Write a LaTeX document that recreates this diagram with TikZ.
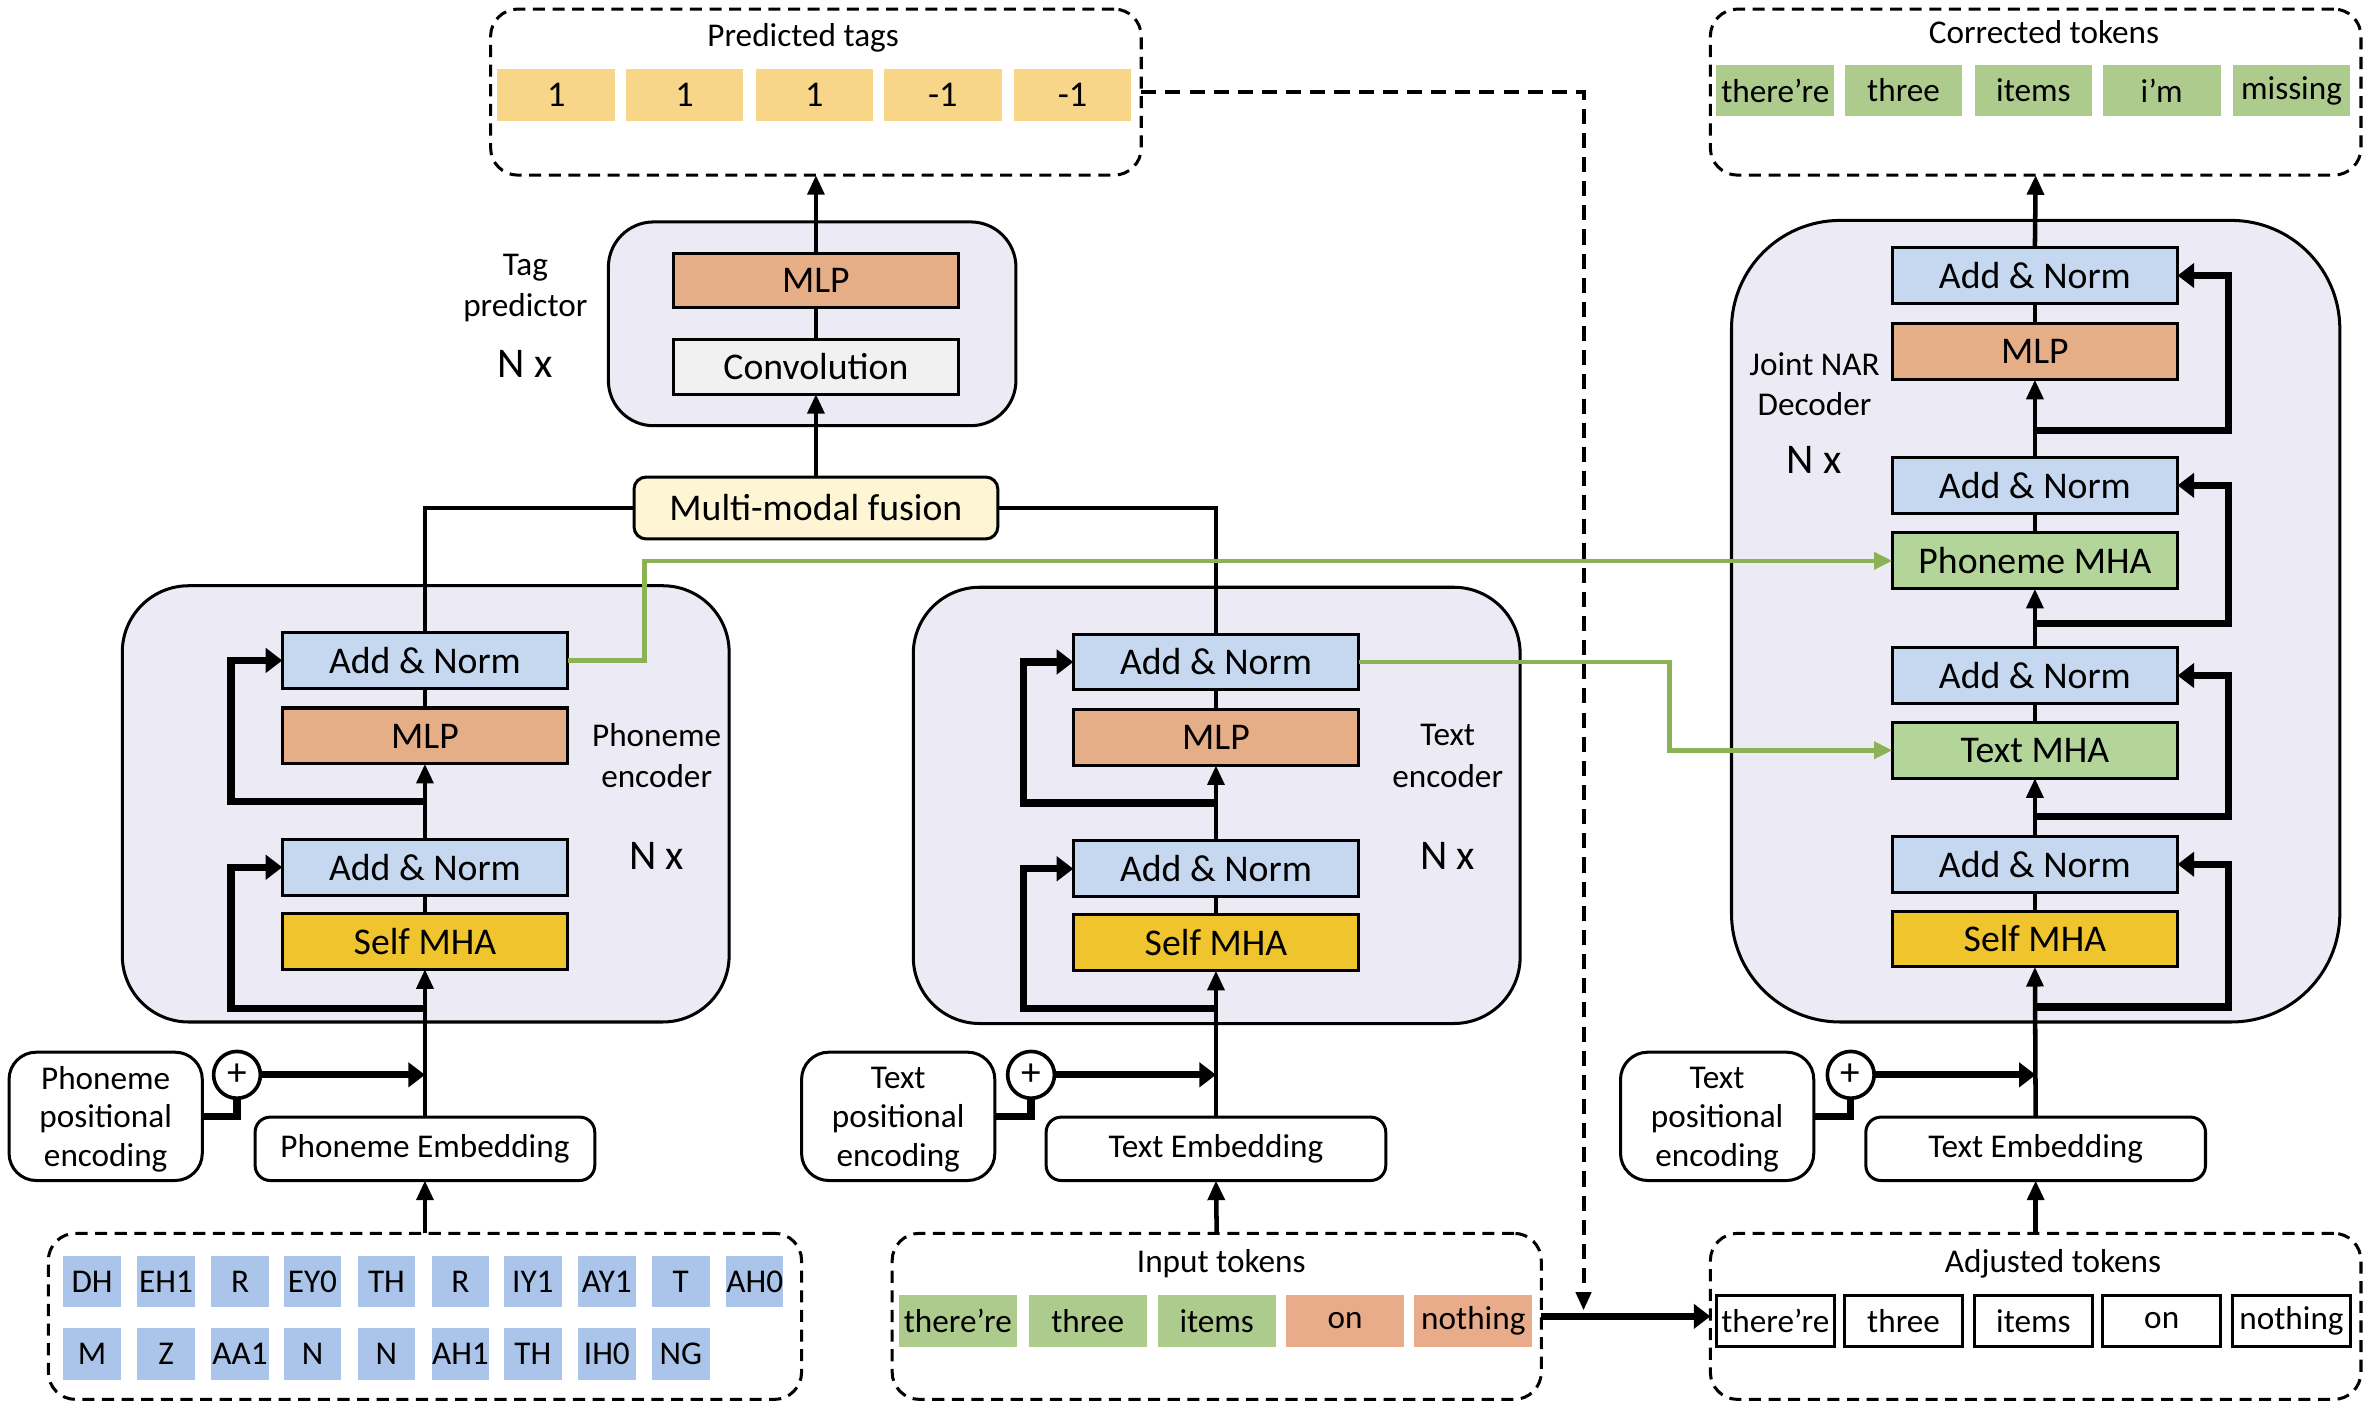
\documentclass[tikz,border=0pt]{standalone}
\usepackage{fontspec}
\setmainfont{Carlito}
\usetikzlibrary{arrows.meta,calc}
\definecolor{anblue}{HTML}{C6D8EF}
\definecolor{mlporange}{HTML}{E6AE86}
\definecolor{mhayellow}{HTML}{F0C42C}
\definecolor{mhagreen}{HTML}{B3D59A}
\definecolor{tokgreen}{HTML}{AECB8E}
\definecolor{tokorange}{HTML}{E9AC8A}
\definecolor{tagyellow}{HTML}{F7D68A}
\definecolor{phblue}{HTML}{AAC4EA}
\definecolor{encfill}{HTML}{ECEBF5}
\definecolor{fusefill}{HTML}{FDF5D4}
\definecolor{convfill}{HTML}{F1F1F1}
\definecolor{linkgreen}{HTML}{8CB255}
\begin{document}
\begin{tikzpicture}[x=0.5pt,y=-0.5pt,
  blk/.style={draw, line width=1pt, minimum width=94.5pt, minimum height=18.5pt, inner sep=0pt, outer sep=0pt, font=\fontsize{12.5}{14}\selectfont},
  an/.style={blk, fill=anblue},
  mlp/.style={blk, fill=mlporange},
  smha/.style={blk, fill=mhayellow},
  gmha/.style={blk, fill=mhagreen},
  encbox/.style={draw, line width=1pt, fill=encfill, rounded corners=22pt, inner sep=0pt, outer sep=0pt},
  dbox/.style={draw, dash pattern=on 4pt off 2.5pt, line width=1pt, rounded corners=9pt, inner sep=0pt, outer sep=0pt},
  cell/.style={minimum width=39pt, minimum height=17pt, inner sep=0pt, outer sep=0pt, font=\fontsize{11}{13}\selectfont},
  pcell/.style={cell, fill=phblue, minimum width=19pt, font=\fontsize{11}{12}\selectfont},
  flow/.style={line width=1.5pt},
  arr/.style={line width=1.5pt, -{Triangle[length=6.5pt,width=5.5pt]}},
  res/.style={line width=2.4pt},
  resarr/.style={line width=2.4pt, -{Triangle[length=5.5pt,width=8pt]}},
  garr/.style={line width=1.5pt, draw=linkgreen, -{Triangle[length=6pt,width=5.5pt,fill=linkgreen]}},
  lbl/.style={font=\fontsize{11}{13}\selectfont, inner sep=0pt},
  nx/.style={font=\fontsize{14}{16}\selectfont, inner sep=0pt},
  ttl/.style={font=\fontsize{11}{13}\selectfont, inner sep=0pt},
  rbox/.style={draw, line width=1pt, rounded corners=8pt, inner sep=0pt, outer sep=0pt, fill=white},
  plus/.style={draw, circle, line width=1.2pt, minimum size=15.5pt, inner sep=0pt, outer sep=0pt, fill=white, font=\fontsize{13}{13}\selectfont}
]
\useasboundingbox (0,0) rectangle (1568,933.4);

% ---------- Predicted tags ----------
\node[dbox, minimum width=215.5pt, minimum height=55pt] (predbox) at (540.5,61) {};
\node[ttl] (predttl) at (532,25) {Predicted tags};
\foreach \x/\t [count=\i] in {368.5/1, 453.5/1, 539.5/1, 624.5/-1, 710.5/-1}
  \node[cell, fill=tagyellow, font=\fontsize{12}{13}\selectfont] (tag\i) at (\x,63) {\t};

% ---------- Corrected tokens ----------
\node[dbox, minimum width=215.5pt, minimum height=55pt] (corrbox) at (1348.5,61) {};
\node[ttl] (corrttl) at (1354,21) {Corrected tokens};
\foreach \x/\t [count=\i] in {1176/there’re, 1261/three, 1347/items, 1432/i’m, 1518/missing}
  \node[cell, fill=tokgreen] (ct\i) at (\x,60) {\t};

% ---------- Tag predictor ----------
\node[encbox, rounded corners=15pt, minimum width=135pt, minimum height=67.5pt] (tagbox) at (538,214.5) {};
\node[blk, fill=mlporange, minimum height=18pt] (tmlpp) at (540.5,186) {MLP};
\node[blk, fill=convfill, minimum height=18pt] (conv) at (540.5,243) {Convolution};
\node[lbl] (taglbl1) at (348,177) {Tag};
\node[lbl] (taglbl2) at (348,204) {predictor};
\node[nx] (tagnx) at (348,241) {N x};

% ---------- Fusion ----------
\node[draw, line width=1pt, fill=fusefill, rounded corners=4pt, minimum width=120.5pt, minimum height=20.5pt, inner sep=0pt, outer sep=0pt, font=\fontsize{12.5}{14}\selectfont] (fuse) at (540.5,336.5) {Multi-modal fusion};

% ---------- Phoneme encoder ----------
\node[encbox, minimum width=201pt, minimum height=144.5pt] (penc) at (282,532.5) {};
\node[an] (pan1) at (281.5,437.5) {Add \& Norm};
\node[mlp] (pmlp) at (281.5,487.5) {MLP};
\node[an] (pan2) at (281.5,574.5) {Add \& Norm};
\node[smha] (psmha) at (281.5,623.5) {Self MHA};
\node[lbl] (plbl1) at (435,487) {Phoneme};
\node[lbl] (plbl2) at (435,514) {encoder};
\node[nx] (pnx) at (435,567) {N x};

% ---------- Text encoder ----------
\node[encbox, minimum width=201pt, minimum height=144.5pt] (tenc) at (806,533.5) {};
\node[an] (tan1) at (805.5,438.5) {Add \& Norm};
\node[mlp] (tmlp) at (805.5,488.5) {MLP};
\node[an] (tan2) at (805.5,575.5) {Add \& Norm};
\node[smha] (tsmha) at (805.5,624.5) {Self MHA};
\node[lbl] (tlbl1) at (959,487) {Text};
\node[lbl] (tlbl2) at (959,514) {encoder};
\node[nx] (tnx) at (959,567) {N x};

% ---------- Decoder ----------
\node[encbox, rounded corners=36pt, minimum width=201.5pt, minimum height=265.5pt] (dec) at (1348.5,411.5) {};
\node[an] (dan4) at (1348,182.5) {Add \& Norm};
\node[mlp] (dmlp) at (1348,233) {MLP};
\node[an] (dan3) at (1348,321.5) {Add \& Norm};
\node[gmha] (dpmha) at (1348,371.5) {Phoneme MHA};
\node[an] (dan2) at (1348,447.5) {Add \& Norm};
\node[gmha] (dtmha) at (1348,497) {Text MHA};
\node[an] (dan1) at (1348,572.5) {Add \& Norm};
\node[smha] (dsmha) at (1348,622) {Self MHA};
\node[lbl] (dlbl1) at (1202,241) {Joint NAR};
\node[lbl] (dlbl2) at (1202,268) {Decoder};
\node[nx] (dnx) at (1202,305) {N x};

% ---------- Bottom: phoneme side ----------
\node[rbox, rounded corners=9pt, minimum width=64pt, minimum height=42.5pt] (ppos) at (70,739.5) {};
\node[lbl] (pposa) at (70,714) {Phoneme};
\node[lbl] (pposb) at (70,741) {positional};
\node[lbl] (pposc) at (70,767) {encoding};
\node[plus] (p1) at (157,712) {+};
\node[rbox, rounded corners=5pt, minimum width=112.5pt, minimum height=21pt, font=\fontsize{11}{13}\selectfont] (pemb) at (281.5,761) {Phoneme Embedding};
\node[dbox, minimum width=249.5pt, minimum height=55pt] (ptok) at (281.5,872) {};
\foreach \x/\t [count=\i] in {61/DH, 110/EH1, 159/R, 207/EY0, 256/TH, 305/R, 353/IY1, 402/AY1, 451/T, 500/AH0}
  \node[pcell] (pa\i) at (\x,849) {\t};
\foreach \x/\t [count=\i] in {61/M, 110/Z, 159/AA1, 207/N, 256/N, 305/AH1, 353/TH, 402/IH0, 451/NG}
  \node[pcell] (pb\i) at (\x,897) {\t};

% ---------- Bottom: text side ----------
\node[rbox, rounded corners=9pt, minimum width=64pt, minimum height=42.5pt] (tpos) at (595,739.5) {};
\node[lbl] (tposa) at (595,714) {Text};
\node[lbl] (tposb) at (595,741) {positional};
\node[lbl] (tposc) at (595,767) {encoding};
\node[plus] (p2) at (683,712) {+};
\node[rbox, rounded corners=5pt, minimum width=112.5pt, minimum height=21pt, font=\fontsize{11}{13}\selectfont] (temb) at (805.5,761) {Text Embedding};
\node[dbox, minimum width=215pt, minimum height=55pt] (itok) at (806,872) {};
\node[ttl] (ittl) at (809,837) {Input tokens};
\foreach \x/\t/\c [count=\i] in {634.5/there’re/tokgreen, 720.5/three/tokgreen, 806/items/tokgreen, 891/on/tokorange, 976/nothing/tokorange}
  \node[cell, fill=\c] (it\i) at (\x,875) {\t};

% ---------- Bottom: decoder side ----------
\node[rbox, rounded corners=9pt, minimum width=64pt, minimum height=42.5pt] (dpos) at (1137.5,739.5) {};
\node[lbl] (dposa) at (1137.5,714) {Text};
\node[lbl] (dposb) at (1137.5,741) {positional};
\node[lbl] (dposc) at (1137.5,767) {encoding};
\node[plus] (p3) at (1226,712) {+};
\node[rbox, rounded corners=5pt, minimum width=112.5pt, minimum height=21pt, font=\fontsize{11}{13}\selectfont] (demb) at (1348.5,761) {Text Embedding};
\node[dbox, minimum width=215.5pt, minimum height=55pt] (atok) at (1348.5,872) {};
\node[ttl] (attl) at (1360,837) {Adjusted tokens};
\foreach \x/\t [count=\i] in {1176/there’re, 1261/three, 1347/items, 1432/on, 1518/nothing}
  \node[cell, draw, line width=1pt, fill=white] (at\i) at (\x,875) {\t};

% ================= connectors =================
% tag predictor
\draw[arr] (fuse.north) -- (conv.south);
\draw[flow] (conv.north) -- (tmlpp.south);
\draw[arr] (tmlpp.north) -- (predbox.south);
\draw[flow] (fuse.west) -| (pan1.north);
\draw[flow] (fuse.east) -| (tan1.north);

% phoneme encoder
\coordinate (pr1) at (281.5,668);
\coordinate (pr2) at (281.5,531);
\draw[arr] (pemb.north) -- (psmha.south);
\draw[flow] (psmha.north) -- (pan2.south);
\draw[arr] (pan2.north) -- (pmlp.south);
\draw[flow] (pmlp.north) -- (pan1.south);
\draw[resarr] (pr1) -| (153,574.5) -- (pan2.west);
\draw[resarr] (pr2) -| (153,437.5) -- (pan1.west);

% text encoder
\coordinate (tr1) at (805.5,668);
\coordinate (tr2) at (805.5,532);
\draw[arr] (temb.north) -- (tsmha.south);
\draw[flow] (tsmha.north) -- (tan2.south);
\draw[arr] (tan2.north) -- (tmlp.south);
\draw[flow] (tmlp.north) -- (tan1.south);
\draw[resarr] (tr1) -| (678,575.5) -- (tan2.west);
\draw[resarr] (tr2) -| (678,438.5) -- (tan1.west);

% decoder
\coordinate (dr1) at (1348,667);
\coordinate (dr2) at (1348,541);
\coordinate (dr3) at (1348,413);
\coordinate (dr4) at (1348,285);
\draw[arr] (demb.north) -- (dsmha.south);
\draw[flow] (dsmha.north) -- (dan1.south);
\draw[arr] (dan1.north) -- (dtmha.south);
\draw[flow] (dtmha.north) -- (dan2.south);
\draw[arr] (dan2.north) -- (dpmha.south);
\draw[flow] (dpmha.north) -- (dan3.south);
\draw[arr] (dan3.north) -- (dmlp.south);
\draw[flow] (dmlp.north) -- (dan4.south);
\draw[arr] (dan4.north) -- (corrbox.south);
\draw[resarr] (dr1) -| (1476,572.5) -- (dan1.east);
\draw[resarr] (dr2) -| (1476,447.5) -- (dan2.east);
\draw[resarr] (dr3) -| (1476,321.5) -- (dan3.east);
\draw[resarr] (dr4) -| (1476,182.5) -- (dan4.east);

% green cross links
\draw[garr] (pan1.east) -- (427,437.5) |- (dpmha.west);
\draw[garr] (tan1.east) -- (1106,438.5) |- (dtmha.west);

% embeddings and positional encodings
\draw[arr] (ptok.north) -- (pemb.south);
\draw[arr] (itok.north) -- (temb.south);
\draw[arr] (atok.north) -- (demb.south);
\draw[res] (ppos.east) -| (p1.south);
\draw[res] (tpos.east) -| (p2.south);
\draw[res] (dpos.east) -| (p3.south);
\draw[resarr] (p1.east) -- (pemb.north |- p1.east);
\draw[resarr] (p2.east) -- (temb.north |- p2.east);
\draw[resarr] (p3.east) -- (demb.north |- p3.east);

% input -> adjusted, and tags dashed link
\draw[resarr] (itok.east) -- (atok.west);
\coordinate (dj) at (1049,868);
\draw[line width=1.3pt, dash pattern=on 5pt off 3pt, -{Triangle[length=6pt,width=5pt]}] (predbox.east) -- (1049,61) -- (dj);
\end{tikzpicture}
\end{document}
